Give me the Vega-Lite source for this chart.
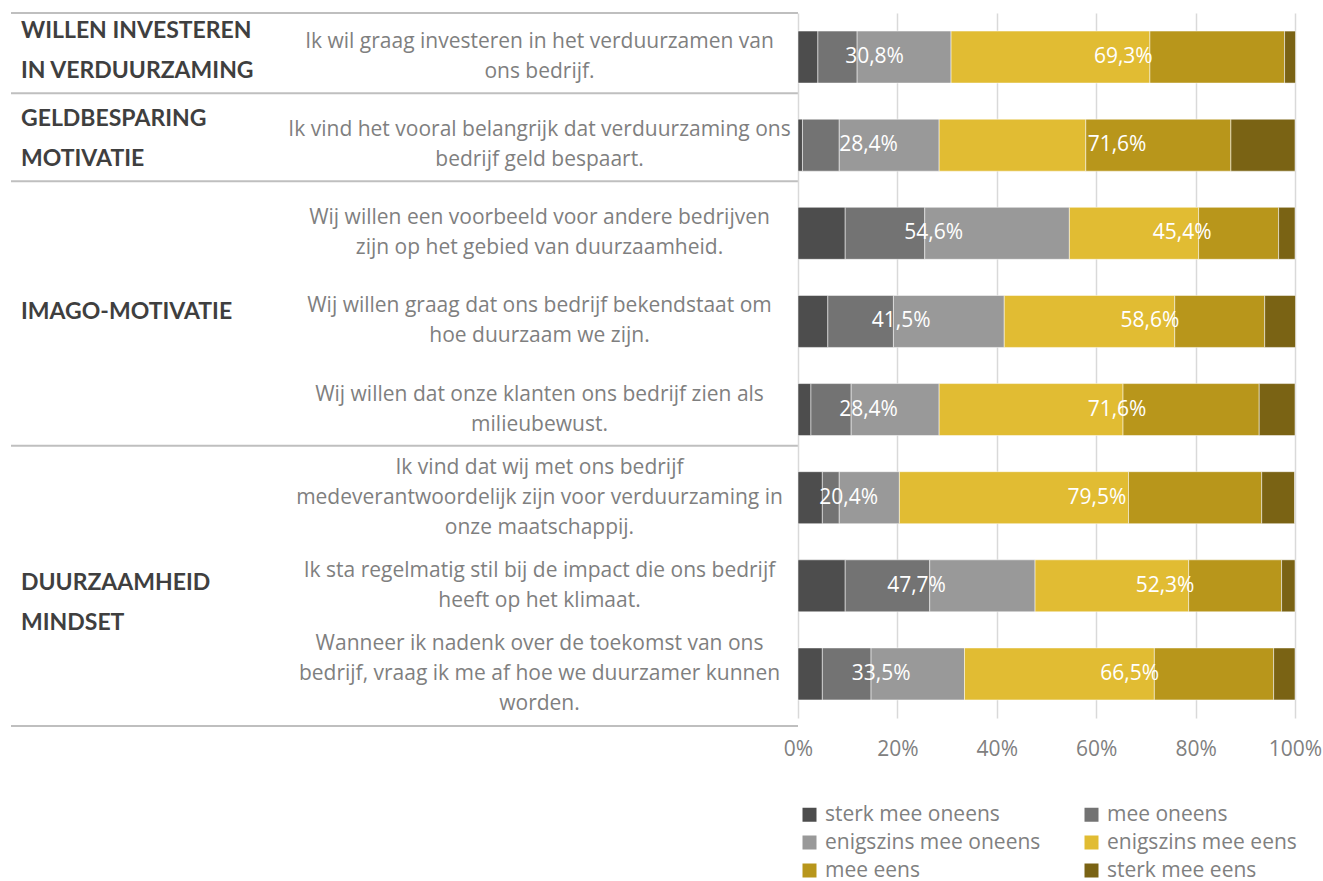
{
  "$schema": "https://vega.github.io/schema/vega-lite/v6.json",
  "padding": {"left": 10, "top": 12, "right": 0, "bottom": 0},
  "background": "white",
  "spacing": 0,
  "bounds": "flush",
  "config": {"view": {"stroke": null}, "font": "Open Sans"},
  "datasets": {
    "seg": [
      {"q": "Ik wil graag investeren in het verduurzamen van|ons bedrijf.", "cat": "sterk mee oneens", "k": 1, "v": 4.0},
      {"q": "Ik wil graag investeren in het verduurzamen van|ons bedrijf.", "cat": "mee oneens", "k": 2, "v": 7.9},
      {"q": "Ik wil graag investeren in het verduurzamen van|ons bedrijf.", "cat": "enigszins mee oneens", "k": 3, "v": 18.9},
      {"q": "Ik wil graag investeren in het verduurzamen van|ons bedrijf.", "cat": "enigszins mee eens", "k": 4, "v": 40.0},
      {"q": "Ik wil graag investeren in het verduurzamen van|ons bedrijf.", "cat": "mee eens", "k": 5, "v": 27.1},
      {"q": "Ik wil graag investeren in het verduurzamen van|ons bedrijf.", "cat": "sterk mee eens", "k": 6, "v": 2.2},
      {"q": "Ik vind het vooral belangrijk dat verduurzaming ons|bedrijf geld bespaart.", "cat": "sterk mee oneens", "k": 1, "v": 0.9},
      {"q": "Ik vind het vooral belangrijk dat verduurzaming ons|bedrijf geld bespaart.", "cat": "mee oneens", "k": 2, "v": 7.4},
      {"q": "Ik vind het vooral belangrijk dat verduurzaming ons|bedrijf geld bespaart.", "cat": "enigszins mee oneens", "k": 3, "v": 20.1},
      {"q": "Ik vind het vooral belangrijk dat verduurzaming ons|bedrijf geld bespaart.", "cat": "enigszins mee eens", "k": 4, "v": 29.5},
      {"q": "Ik vind het vooral belangrijk dat verduurzaming ons|bedrijf geld bespaart.", "cat": "mee eens", "k": 5, "v": 29.2},
      {"q": "Ik vind het vooral belangrijk dat verduurzaming ons|bedrijf geld bespaart.", "cat": "sterk mee eens", "k": 6, "v": 12.9},
      {"q": "Wij willen een voorbeeld voor andere bedrijven|zijn op het gebied van duurzaamheid.", "cat": "sterk mee oneens", "k": 1, "v": 9.5},
      {"q": "Wij willen een voorbeeld voor andere bedrijven|zijn op het gebied van duurzaamheid.", "cat": "mee oneens", "k": 2, "v": 16.0},
      {"q": "Wij willen een voorbeeld voor andere bedrijven|zijn op het gebied van duurzaamheid.", "cat": "enigszins mee oneens", "k": 3, "v": 29.1},
      {"q": "Wij willen een voorbeeld voor andere bedrijven|zijn op het gebied van duurzaamheid.", "cat": "enigszins mee eens", "k": 4, "v": 26.0},
      {"q": "Wij willen een voorbeeld voor andere bedrijven|zijn op het gebied van duurzaamheid.", "cat": "mee eens", "k": 5, "v": 16.1},
      {"q": "Wij willen een voorbeeld voor andere bedrijven|zijn op het gebied van duurzaamheid.", "cat": "sterk mee eens", "k": 6, "v": 3.3},
      {"q": "Wij willen graag dat ons bedrijf bekendstaat om|hoe duurzaam we zijn.", "cat": "sterk mee oneens", "k": 1, "v": 6.0},
      {"q": "Wij willen graag dat ons bedrijf bekendstaat om|hoe duurzaam we zijn.", "cat": "mee oneens", "k": 2, "v": 13.2},
      {"q": "Wij willen graag dat ons bedrijf bekendstaat om|hoe duurzaam we zijn.", "cat": "enigszins mee oneens", "k": 3, "v": 22.3},
      {"q": "Wij willen graag dat ons bedrijf bekendstaat om|hoe duurzaam we zijn.", "cat": "enigszins mee eens", "k": 4, "v": 34.3},
      {"q": "Wij willen graag dat ons bedrijf bekendstaat om|hoe duurzaam we zijn.", "cat": "mee eens", "k": 5, "v": 18.1},
      {"q": "Wij willen graag dat ons bedrijf bekendstaat om|hoe duurzaam we zijn.", "cat": "sterk mee eens", "k": 6, "v": 6.2},
      {"q": "Wij willen dat onze klanten ons bedrijf zien als|milieubewust.", "cat": "sterk mee oneens", "k": 1, "v": 2.6},
      {"q": "Wij willen dat onze klanten ons bedrijf zien als|milieubewust.", "cat": "mee oneens", "k": 2, "v": 8.1},
      {"q": "Wij willen dat onze klanten ons bedrijf zien als|milieubewust.", "cat": "enigszins mee oneens", "k": 3, "v": 17.7},
      {"q": "Wij willen dat onze klanten ons bedrijf zien als|milieubewust.", "cat": "enigszins mee eens", "k": 4, "v": 37.0},
      {"q": "Wij willen dat onze klanten ons bedrijf zien als|milieubewust.", "cat": "mee eens", "k": 5, "v": 27.4},
      {"q": "Wij willen dat onze klanten ons bedrijf zien als|milieubewust.", "cat": "sterk mee eens", "k": 6, "v": 7.2},
      {"q": "Ik vind dat wij met ons bedrijf|medeverantwoordelijk zijn voor verduurzaming in|onze maatschappij.", "cat": "sterk mee oneens", "k": 1, "v": 4.9},
      {"q": "Ik vind dat wij met ons bedrijf|medeverantwoordelijk zijn voor verduurzaming in|onze maatschappij.", "cat": "mee oneens", "k": 2, "v": 3.4},
      {"q": "Ik vind dat wij met ons bedrijf|medeverantwoordelijk zijn voor verduurzaming in|onze maatschappij.", "cat": "enigszins mee oneens", "k": 3, "v": 12.1},
      {"q": "Ik vind dat wij met ons bedrijf|medeverantwoordelijk zijn voor verduurzaming in|onze maatschappij.", "cat": "enigszins mee eens", "k": 4, "v": 46.1},
      {"q": "Ik vind dat wij met ons bedrijf|medeverantwoordelijk zijn voor verduurzaming in|onze maatschappij.", "cat": "mee eens", "k": 5, "v": 26.8},
      {"q": "Ik vind dat wij met ons bedrijf|medeverantwoordelijk zijn voor verduurzaming in|onze maatschappij.", "cat": "sterk mee eens", "k": 6, "v": 6.6},
      {"q": "Ik sta regelmatig stil bij de impact die ons bedrijf|heeft op het klimaat.", "cat": "sterk mee oneens", "k": 1, "v": 9.5},
      {"q": "Ik sta regelmatig stil bij de impact die ons bedrijf|heeft op het klimaat.", "cat": "mee oneens", "k": 2, "v": 17.0},
      {"q": "Ik sta regelmatig stil bij de impact die ons bedrijf|heeft op het klimaat.", "cat": "enigszins mee oneens", "k": 3, "v": 21.2},
      {"q": "Ik sta regelmatig stil bij de impact die ons bedrijf|heeft op het klimaat.", "cat": "enigszins mee eens", "k": 4, "v": 30.9},
      {"q": "Ik sta regelmatig stil bij de impact die ons bedrijf|heeft op het klimaat.", "cat": "mee eens", "k": 5, "v": 18.7},
      {"q": "Ik sta regelmatig stil bij de impact die ons bedrijf|heeft op het klimaat.", "cat": "sterk mee eens", "k": 6, "v": 2.7},
      {"q": "Wanneer ik nadenk over de toekomst van ons|bedrijf, vraag ik me af hoe we duurzamer kunnen|worden.", "cat": "sterk mee oneens", "k": 1, "v": 4.9},
      {"q": "Wanneer ik nadenk over de toekomst van ons|bedrijf, vraag ik me af hoe we duurzamer kunnen|worden.", "cat": "mee oneens", "k": 2, "v": 9.8},
      {"q": "Wanneer ik nadenk over de toekomst van ons|bedrijf, vraag ik me af hoe we duurzamer kunnen|worden.", "cat": "enigszins mee oneens", "k": 3, "v": 18.8},
      {"q": "Wanneer ik nadenk over de toekomst van ons|bedrijf, vraag ik me af hoe we duurzamer kunnen|worden.", "cat": "enigszins mee eens", "k": 4, "v": 38.2},
      {"q": "Wanneer ik nadenk over de toekomst van ons|bedrijf, vraag ik me af hoe we duurzamer kunnen|worden.", "cat": "mee eens", "k": 5, "v": 24.0},
      {"q": "Wanneer ik nadenk over de toekomst van ons|bedrijf, vraag ik me af hoe we duurzamer kunnen|worden.", "cat": "sterk mee eens", "k": 6, "v": 4.3}
    ],
    "lab": [
      {"q": "Ik wil graag investeren in het verduurzamen van|ons bedrijf.", "k": 1, "t": 30.8, "txt": "30,8%"},
      {"q": "Ik wil graag investeren in het verduurzamen van|ons bedrijf.", "k": 2, "t": 69.3, "txt": "69,3%"},
      {"q": "Ik vind het vooral belangrijk dat verduurzaming ons|bedrijf geld bespaart.", "k": 1, "t": 28.4, "txt": "28,4%"},
      {"q": "Ik vind het vooral belangrijk dat verduurzaming ons|bedrijf geld bespaart.", "k": 2, "t": 71.6, "txt": "71,6%"},
      {"q": "Wij willen een voorbeeld voor andere bedrijven|zijn op het gebied van duurzaamheid.", "k": 1, "t": 54.6, "txt": "54,6%"},
      {"q": "Wij willen een voorbeeld voor andere bedrijven|zijn op het gebied van duurzaamheid.", "k": 2, "t": 45.4, "txt": "45,4%"},
      {"q": "Wij willen graag dat ons bedrijf bekendstaat om|hoe duurzaam we zijn.", "k": 1, "t": 41.5, "txt": "41,5%"},
      {"q": "Wij willen graag dat ons bedrijf bekendstaat om|hoe duurzaam we zijn.", "k": 2, "t": 58.6, "txt": "58,6%"},
      {"q": "Wij willen dat onze klanten ons bedrijf zien als|milieubewust.", "k": 1, "t": 28.4, "txt": "28,4%"},
      {"q": "Wij willen dat onze klanten ons bedrijf zien als|milieubewust.", "k": 2, "t": 71.6, "txt": "71,6%"},
      {"q": "Ik vind dat wij met ons bedrijf|medeverantwoordelijk zijn voor verduurzaming in|onze maatschappij.", "k": 1, "t": 20.4, "txt": "20,4%"},
      {"q": "Ik vind dat wij met ons bedrijf|medeverantwoordelijk zijn voor verduurzaming in|onze maatschappij.", "k": 2, "t": 79.5, "txt": "79,5%"},
      {"q": "Ik sta regelmatig stil bij de impact die ons bedrijf|heeft op het klimaat.", "k": 1, "t": 47.7, "txt": "47,7%"},
      {"q": "Ik sta regelmatig stil bij de impact die ons bedrijf|heeft op het klimaat.", "k": 2, "t": 52.3, "txt": "52,3%"},
      {"q": "Wanneer ik nadenk over de toekomst van ons|bedrijf, vraag ik me af hoe we duurzamer kunnen|worden.", "k": 1, "t": 33.5, "txt": "33,5%"},
      {"q": "Wanneer ik nadenk over de toekomst van ons|bedrijf, vraag ik me af hoe we duurzamer kunnen|worden.", "k": 2, "t": 66.5, "txt": "66,5%"}
    ],
    "grpTwoTop": [
      {"q": "Ik wil graag investeren in het verduurzamen van|ons bedrijf.", "g": "WILLEN INVESTEREN|IN VERDUURZAMING"},
      {"q": "Ik vind het vooral belangrijk dat verduurzaming ons|bedrijf geld bespaart.", "g": "GELDBESPARING|MOTIVATIE"}
    ],
    "grpOne": [
      {"q": "Wij willen graag dat ons bedrijf bekendstaat om|hoe duurzaam we zijn.", "g": "IMAGO-MOTIVATIE"}
    ],
    "grpLast": [
      {"q": "Ik sta regelmatig stil bij de impact die ons bedrijf|heeft op het klimaat.", "g": "DUURZAAMHEID|MINDSET"}
    ],
    "sepTop": [
      {"q": "Ik wil graag investeren in het verduurzamen van|ons bedrijf."}
    ],
    "sepMid": [
      {"q": "Ik wil graag investeren in het verduurzamen van|ons bedrijf."},
      {"q": "Ik vind het vooral belangrijk dat verduurzaming ons|bedrijf geld bespaart."},
      {"q": "Wij willen dat onze klanten ons bedrijf zien als|milieubewust."}
    ],
    "sepBot": [
      {"q": "Wanneer ik nadenk over de toekomst van ons|bedrijf, vraag ik me af hoe we duurzamer kunnen|worden."}
    ]
  },
  "hconcat": [
    {
      "width": 787,
      "height": 705,
      "layer": [
        {
          "data": {"name": "sepTop"},
          "mark": {"type": "rule", "color": "#bfbfbf", "strokeWidth": 2},
          "encoding": {
            "y": {"field": "q", "type": "nominal", "bandPosition": 0, "axis": null,
              "scale": {"type": "band", "paddingInner": 0, "paddingOuter": 0, "domain": [
                "Ik wil graag investeren in het verduurzamen van|ons bedrijf.",
                "Ik vind het vooral belangrijk dat verduurzaming ons|bedrijf geld bespaart.",
                "Wij willen een voorbeeld voor andere bedrijven|zijn op het gebied van duurzaamheid.",
                "Wij willen graag dat ons bedrijf bekendstaat om|hoe duurzaam we zijn.",
                "Wij willen dat onze klanten ons bedrijf zien als|milieubewust.",
                "Ik vind dat wij met ons bedrijf|medeverantwoordelijk zijn voor verduurzaming in|onze maatschappij.",
                "Ik sta regelmatig stil bij de impact die ons bedrijf|heeft op het klimaat.",
                "Wanneer ik nadenk over de toekomst van ons|bedrijf, vraag ik me af hoe we duurzamer kunnen|worden."]}},
            "x": {"datum": 0, "type": "quantitative", "scale": {"domain": [0, 1], "nice": false}, "axis": null},
            "x2": {"datum": 1}
          }
        },
        {
          "data": {"name": "sepMid"},
          "mark": {"type": "rule", "color": "#bfbfbf", "strokeWidth": 2},
          "encoding": {
            "y": {"field": "q", "type": "nominal", "bandPosition": 0.91, "axis": null},
            "x": {"datum": 0, "type": "quantitative", "axis": null},
            "x2": {"datum": 1}
          }
        },
        {
          "data": {"name": "sepBot"},
          "mark": {"type": "rule", "color": "#bfbfbf", "strokeWidth": 2},
          "encoding": {
            "y": {"field": "q", "type": "nominal", "bandPosition": 1.09, "axis": null},
            "x": {"datum": 0, "type": "quantitative", "axis": null},
            "x2": {"datum": 1}
          }
        },
        {
          "data": {"name": "grpTwoTop"},
          "mark": {"type": "text", "align": "left", "baseline": "middle", "dx": 10, "fontSize": 23, "fontWeight": "bold", "font": "Lato", "color": "#3f3f3f", "lineBreak": "|", "lineHeight": 40},
          "encoding": {
            "y": {"field": "q", "type": "nominal", "bandPosition": 0.2, "axis": null},
            "x": {"datum": 0, "type": "quantitative", "axis": null},
            "text": {"field": "g"}
          }
        },
        {
          "data": {"name": "grpOne"},
          "mark": {"type": "text", "align": "left", "baseline": "middle", "dx": 10, "fontSize": 23, "fontWeight": "bold", "font": "Lato", "color": "#3f3f3f", "lineBreak": "|", "lineHeight": 40},
          "encoding": {
            "y": {"field": "q", "type": "nominal", "bandPosition": 0.39, "axis": null},
            "x": {"datum": 0, "type": "quantitative", "axis": null},
            "text": {"field": "g"}
          }
        },
        {
          "data": {"name": "grpLast"},
          "mark": {"type": "text", "align": "left", "baseline": "middle", "dx": 10, "fontSize": 23, "fontWeight": "bold", "font": "Lato", "color": "#3f3f3f", "lineBreak": "|", "lineHeight": 40},
          "encoding": {
            "y": {"field": "q", "type": "nominal", "bandPosition": 0.47, "axis": null},
            "x": {"datum": 0, "type": "quantitative", "axis": null},
            "text": {"field": "g"}
          }
        }
      ]
    },
    {
      "width": 497,
      "height": 705,
      "layer": [
        {
          "data": {"name": "seg"},
          "mark": {"type": "bar", "stroke": "#ffffff", "strokeWidth": 0.5},
          "encoding": {
            "y": {"field": "q", "type": "nominal",
              "scale": {"type": "band", "paddingInner": 0.41, "paddingOuter": 0.205, "domain": [
                "Ik wil graag investeren in het verduurzamen van|ons bedrijf.",
                "Ik vind het vooral belangrijk dat verduurzaming ons|bedrijf geld bespaart.",
                "Wij willen een voorbeeld voor andere bedrijven|zijn op het gebied van duurzaamheid.",
                "Wij willen graag dat ons bedrijf bekendstaat om|hoe duurzaam we zijn.",
                "Wij willen dat onze klanten ons bedrijf zien als|milieubewust.",
                "Ik vind dat wij met ons bedrijf|medeverantwoordelijk zijn voor verduurzaming in|onze maatschappij.",
                "Ik sta regelmatig stil bij de impact die ons bedrijf|heeft op het klimaat.",
                "Wanneer ik nadenk over de toekomst van ons|bedrijf, vraag ik me af hoe we duurzamer kunnen|worden."]},
              "axis": {"title": null, "domain": false, "ticks": false, "labelAlign": "center", "labelBaseline": "middle", "labelPadding": 259, "labelFontSize": 21, "labelFont": "Open Sans", "labelColor": "#7f7f7f", "labelLimit": 700, "labelLineHeight": 30, "labelOverlap": false,
                "labelOffset": {"condition": {"test": "length(split(datum.value, '|')) > 2", "value": -30}, "value": -15},
                "labelExpr": "split(datum.label, '|')"}},
            "x": {"field": "v", "type": "quantitative", "stack": "zero",
              "scale": {"domain": [0, 100], "nice": false},
              "axis": {"title": null, "values": [0, 20, 40, 60, 80, 100], "labelExpr": "datum.value + '%'", "labelFlush": false, "grid": true, "gridColor": "#d9d9d9", "gridWidth": 1.5, "domain": false, "ticks": false, "labelPadding": 20, "labelFontSize": 21, "labelFont": "Open Sans", "labelColor": "#808080"}},
            "color": {"field": "cat", "type": "nominal",
              "scale": {"domain": ["sterk mee oneens", "enigszins mee oneens", "mee eens", "mee oneens", "enigszins mee eens", "sterk mee eens"],
                "range": ["#4d4d4d", "#999999", "#b8961b", "#737373", "#e1bc33", "#7a6314"]},
              "legend": {"title": null, "orient": "none", "legendX": 788, "legendY": 791, "columns": 2, "symbolType": "square", "symbolSize": 196, "symbolStrokeWidth": 0, "labelFontSize": 21, "labelFont": "Open Sans", "labelColor": "#808080", "rowPadding": 6, "columnPadding": 40, "labelOffset": 5, "labelLimit": 400}},
            "order": {"field": "k", "type": "quantitative"}
          }
        },
        {
          "data": {"name": "lab"},
          "mark": {"type": "text", "color": "#ffffff", "fontSize": 21, "font": "Open Sans", "baseline": "middle", "align": "center"},
          "encoding": {
            "y": {"field": "q", "type": "nominal"},
            "x": {"field": "t", "type": "quantitative", "stack": "zero", "bandPosition": 0.5},
            "order": {"field": "k", "type": "quantitative"},
            "text": {"field": "txt"}
          }
        }
      ]
    }
  ],
  "resolve": {"scale": {"y": "independent", "x": "independent"}}
}
